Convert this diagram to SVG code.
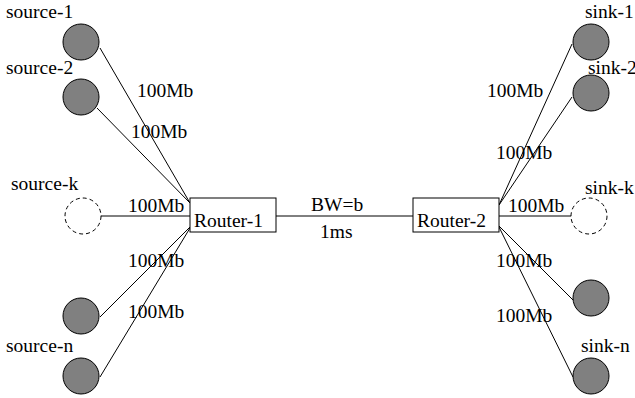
<svg xmlns="http://www.w3.org/2000/svg" width="635" height="398" viewBox="0 0 635 398">
  <style>
    .host { fill: #808080; stroke: #000; stroke-width: 1; }
    .ghost { fill: none; stroke: #000; stroke-width: 1; stroke-dasharray: 4 3; }
    .router rect { fill: #fff; stroke: #000; stroke-width: 1; }
    #links line { stroke: #000; stroke-width: 1; }
  </style>
  <rect width="635" height="398" fill="#fff"/>

  <g font-family="Liberation Serif, Times New Roman, DejaVu Serif, serif" font-size="19.5" fill="#000">
  <!-- links -->
  <g id="links">
    <line x1="100" y1="48" x2="190" y2="203"/>
    <line x1="97" y1="108" x2="190" y2="203"/>
    <line x1="101" y1="216" x2="190" y2="216"/>
    <line x1="100" y1="317" x2="190" y2="227"/>
    <line x1="100" y1="377" x2="190" y2="228"/>
    <line x1="276" y1="216" x2="413" y2="216"/>
    <line x1="572" y1="44" x2="499" y2="205"/>
    <line x1="572" y1="97" x2="499" y2="205"/>
    <line x1="499" y1="216" x2="571" y2="216"/>
    <line x1="573" y1="300" x2="499" y2="226"/>
    <line x1="573" y1="377" x2="499" y2="227"/>
  </g>

  <!-- link labels -->
  <g id="link-labels">
    <text x="137" y="97">100Mb</text>
    <text x="131" y="138">100Mb</text>
    <text x="128" y="212">100Mb</text>
    <text x="128" y="267">100Mb</text>
    <text x="128" y="318">100Mb</text>
    <text x="311" y="211">BW=b</text>
    <text x="320" y="238">1ms</text>
    <text x="487" y="97">100Mb</text>
    <text x="496" y="159">100Mb</text>
    <text x="508" y="212">100Mb</text>
    <text x="496" y="267">100Mb</text>
    <text x="496" y="322">100Mb</text>
  </g>

  <!-- sources -->
  <g id="source-1"><circle class="host" cx="81" cy="42" r="18"/><text x="6" y="18">source-1</text></g>
  <g id="source-2"><circle class="host" cx="81" cy="97" r="18"/><text x="6" y="74">source-2</text></g>
  <g id="source-k"><circle class="ghost" cx="83" cy="216" r="18"/><text x="11" y="190">source-k</text></g>
  <g id="source-m"><circle class="host" cx="81" cy="316" r="18"/></g>
  <g id="source-n"><circle class="host" cx="81" cy="376" r="18"/><text x="6" y="352">source-n</text></g>

  <!-- routers -->
  <g id="router-1" class="router"><rect x="190" y="198" width="86" height="34"/><text x="194" y="227">Router-1</text></g>
  <g id="router-2" class="router"><rect x="413" y="198" width="86" height="34"/><text x="417" y="227">Router-2</text></g>

  <!-- sinks -->
  <g id="sink-1"><circle class="host" cx="591" cy="42" r="18"/><text x="585" y="18">sink-1</text></g>
  <g id="sink-2"><circle class="host" cx="591" cy="93" r="18"/><text x="588" y="74">sink-2</text></g>
  <g id="sink-k"><circle class="ghost" cx="589" cy="216" r="18"/><text x="585" y="194">sink-k</text></g>
  <g id="sink-m"><circle class="host" cx="591" cy="298" r="18"/></g>
  <g id="sink-n"><circle class="host" cx="591" cy="376" r="18"/><text x="581" y="352">sink-n</text></g>
  </g>
</svg>
